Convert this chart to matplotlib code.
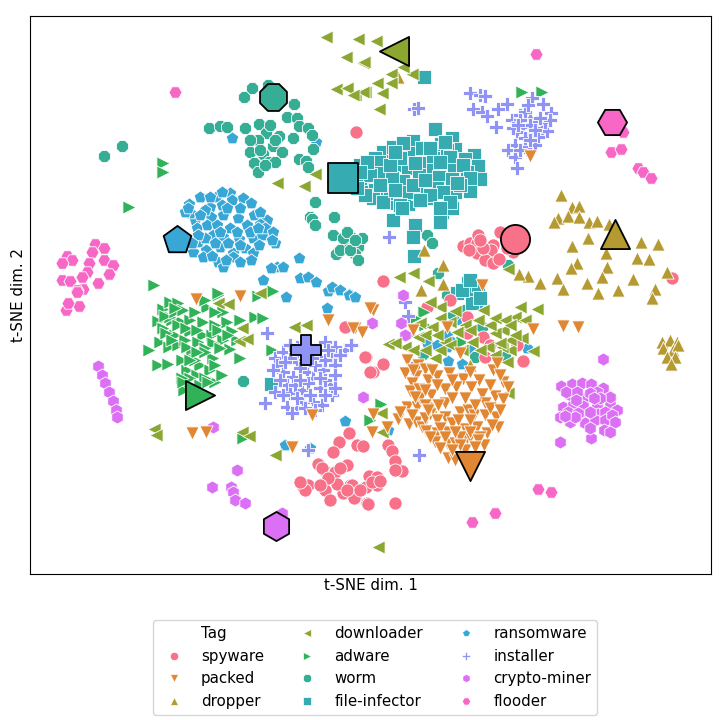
import matplotlib
matplotlib.use("Agg")
import seaborn as sns
from matplotlib import pyplot as plt
from matplotlib.lines import Line2D

# points, one list per tag
spyware = [(356,132),(383,281),(672,278),(463,246),(470,243),(477,243),(478,235),(500,232),(493,245),(477,253),(491,250),(485,260),(493,263),(499,259),(513,252),(507,248),(483,248),(469,250),(480,240),
    (366,357),(373,372),(383,364),(485,357),(523,361),(467,317),(467,333),(483,337),(427,307),(517,345),(450,300),(490,345),
    (349,433),(339,442),(357,445),(333,452),(318,464),(325,471),(335,472),(347,465),(303,487),(325,490),(330,500),(350,485),(343,493),(355,498),(365,487),(367,503),(337,484),(365,357),(370,372),
    (363,446),(388,445),(392,451),(395,461),(402,471),(395,470),(369,476),(366,487),(377,485),(352,485),(354,498),(368,504),(395,503),(377,477),(345,327),
    (322,468),(340,468),(328,478),(308,485),(305,490),(300,482),(320,485),(347,490),(360,490),(372,482),(380,481)]
packed = [(407,360),(418,365),(425,369),(405,373),(416,376),(428,380),(437,376),(449,373),(463,379),(479,380),(493,370),(503,382),(508,387),(412,383),(410,391),(419,389),(431,395),(445,389),(456,387),(471,387),(482,394),(495,396),(503,399),(407,407),(417,407),(420,398),(445,403),(460,412),(468,410),(485,403),(496,417),(430,414),(445,417),(437,420),(474,415),(485,415),(398,419),(409,424),(416,422),(422,427),(426,431),(437,433),(448,432),(465,429),(477,427),(452,423),(498,427),(487,433),(435,442),(447,443),(455,443),(467,438),(484,445),(465,450),(448,458),(455,460),(470,437),(460,437),(373,310),(355,328),(362,332),(563,326),(578,327),(533,329),(373,414),(387,427),(372,432),(460,353),(447,327),(413,330),(497,363),
    (196,299),(240,296),(192,433),(206,432),(292,447),(312,415),(328,320),(353,328),(370,308),(530,156),(482,285),
    (413,370),(432,370),(452,380),(470,372),(490,385),(500,375),(415,397),(425,405),(438,405),(452,398),(465,398),(475,405),(490,408),(500,410),(425,418),(458,420),(470,420),(492,425),(440,428),(455,432),(470,432),(480,437),(430,437),(445,437),(460,445),(478,440),(440,448),(452,450),(475,447),(425,390),(437,385),(400,412),(412,415),(428,410)]
dropper = [(561,195),(572,207),(579,206),(558,218),(554,222),(568,216),(579,217),(589,222),(597,221),(609,224),(588,238),(572,246),(606,253),(641,242),(658,244),(637,258),(649,259),(577,263),(571,268),(607,267),(557,278),(563,289),(587,283),(602,277),(633,279),(667,272),(655,289),(618,290),(598,293),(540,283),(528,276),(519,274),(443,265),(443,284),(421,290),(424,250),(398,77),(652,298),(431,406),(470,365),
    (662,342),(670,340),(677,342),(663,348),(673,350),(678,345),(667,357),(675,357),(671,364)]
downloader = [(326,37),(358,39),(346,57),(363,63),(336,89),(347,88),(355,95),(365,92),(315,174),(277,183),(304,186),(376,41),(364,62),(391,74),(412,74),(403,67),(377,83),(391,83),(382,93),(363,92),(353,95),(379,109),(413,273),(399,277),(428,281),(508,269),
    (537,309),(520,307),(515,317),(503,330),(495,333),(522,338),(533,351),(510,350),(502,347),(488,347),(472,342),(478,320),(483,310),(455,311),(440,307),(430,302),(420,323),(432,327),(418,337),(405,347),(413,350),(388,344),(395,343),(435,358),(507,362),(508,393),(381,413),(382,432),(378,547),
    (218,303),(228,304),(242,328),(239,341),(247,339),(294,327),(306,325),(154,429),(156,435),(242,432),(249,436),(275,455),(260,293),
    (465,325),(450,322),(440,318),(425,335),(445,342),(457,332),(490,325),(495,318),(505,320),(510,325),(480,350),(495,355),(425,350),(440,350),(462,350),(510,340),(525,320),(515,335),(450,345),(470,330),(437,335),(500,343)]
adware = [(218,295),(258,296),(272,292),(207,307),(223,312),(255,317),(263,318),(163,309),(170,302),(178,303),(158,321),(172,320),(182,322),(163,328),(203,322),(227,322),(190,331),(203,335),(212,335),(232,331),(223,340),(160,342),(149,350),(169,347),(178,345),(192,352),(213,343),(230,349),(272,350),(182,360),(213,358),(240,358),(158,365),(168,364),(200,365),(187,370),(210,370),(197,375),(215,382),(185,385),(184,390),(243,438),(170,317),(190,320),
    (163,163),(163,172),(129,207),(154,285),(218,293),(273,291),(522,92),(542,92),(532,150),(424,312),(462,342),(381,404),(370,420),(425,325),(415,318),(410,335),
    (165,316),(175,312),(183,310),(195,312),(175,335),(185,340),(198,342),(205,348),(195,360),(205,352),(220,348),(215,325),(240,320),(237,340),(166,333),(205,378),(190,378),(200,385),(208,382),(182,378),(183,382),(178,325),(186,328),(197,330),(172,340),(215,312),(218,330),(228,335),(205,300),(175,308),(187,347),(197,352),(215,365),(222,375),(190,360)]
worm = [(122,146),(104,156),(209,128),(220,126),(227,127),(244,97),(252,88),(268,85),(294,104),(287,117),(297,118),(299,126),(308,128),(312,135),(293,138),(279,136),(245,128),(259,124),(266,133),(258,140),(273,146),(250,152),(263,154),(282,152),(254,163),(269,162),(275,162),(258,172),(313,149),(299,159),(306,161),(308,167),(315,202),(334,217),(310,217),(312,219),(315,225),(333,235),(336,254),(345,245),(352,238),(358,247),(355,254),(358,260),(343,238),(362,238),
    (260,150),(250,140),(275,140),(265,165),(270,125),(340,250),(350,250),(347,232),(355,240),
    (427,235),(432,243),(243,381),(423,354),(438,273),(447,295),(465,310),(482,327),(453,315),(475,357),(505,357),(508,265)]
file_infector = [(435,129),(452,138),(413,141),(441,144),(422,148),(455,149),(395,153),(408,153),(383,152),(447,150),(474,155),(465,159),(478,166),(375,158),(379,162),(360,165),(422,163),(433,158),(402,165),(408,168),(450,157),(378,173),(454,170),(433,170),(419,175),(439,177),(467,172),(480,179),(452,179),(403,181),(358,178),(363,187),(470,191),(437,188),(455,192),(375,190),(385,195),(373,198),(427,198),(393,203),(408,204),(390,193),(418,193),(400,193),(408,192),(442,212),(452,208),(393,220),(440,222),(415,225),(413,237),(414,256),(424,77),
    (360,178),(468,283),(473,293),(472,303),(457,293),(478,285),(271,384),(462,290),(470,280),(480,298),
    (393,147),(403,143),(430,148),(445,142),(463,165),(470,178),(460,185),(443,192),(413,185),(425,180),(392,178),(370,175),(367,162),(400,158),(390,165),(440,162),(430,195),(450,202),(383,202),(400,205),(365,195),(357,188),(395,152),(415,163),(440,208),(457,183),(402,208),(420,200),(380,185),(395,190),(360,172)]
ransomware = [(232,138),(316,142),(189,204),(200,197),(210,207),(216,197),(230,193),(232,200),(243,198),(251,203),(195,220),(211,217),(223,215),(238,218),(254,215),(267,220),(197,228),(207,225),(217,225),(230,228),(247,225),(260,224),(269,236),(275,243),(198,242),(213,235),(223,237),(239,239),(253,238),(262,235),(193,252),(206,250),(220,247),(233,253),(245,248),(253,253),(203,257),(218,262),(223,267),(233,257),(251,260),
    (299,258),(277,267),(271,268),(283,267),(263,280),(300,278),(308,277),(316,282),(328,291),(332,287),(340,290),(349,294),(286,297),(327,308),(349,295),(355,297),(285,445),(310,448),(345,421),(447,335),(447,347),(427,343),(448,361),(462,364),(457,320),(452,342),(527,348),(388,430),(437,345),(470,350),(478,305),
    (205,210),(190,213),(222,205),(240,208),(260,212),(185,212),(220,232),(205,238),(237,232),(250,232),(215,243),(228,243),(198,235),(240,245),(259,245),(265,228),(273,232),(226,260),(212,256),(240,262),(192,243),(227,208),(200,215),(188,208),(210,197),(222,192),(258,228),(272,240)]
installer = [(470,93),(480,95),(485,96),(473,109),(482,112),(487,116),(498,109),(507,104),(496,127),(512,120),(520,115),(532,98),(543,104),(551,113),(530,118),(537,122),(523,127),(542,128),(547,131),(529,134),(517,132),(538,137),(515,145),(525,147),(508,150),(515,157),(517,168),(414,109),(418,108),(389,237),
    (419,455),(405,302),(408,316),(352,345),(412,368),(267,333),(265,403),(308,450),
    (275,358),(283,352),(297,347),(325,342),(335,347),(345,350),(351,345),(332,358),(320,357),(283,372),(293,377),(307,372),(313,378),(323,370),(330,385),(287,385),(302,390),(320,388),(290,393),(313,402),(303,402),(322,405),(287,407),(297,408),(292,413),(275,392),(277,365),(297,362),(332,395),
    (290,358),(305,360),(315,350),(290,345),(285,362),(300,368),(315,365),(325,360),(335,365),(280,380),(295,385),(308,383),(325,380),(335,375),(283,395),(297,398),(310,395),(325,395),(335,388),(305,408),(315,410),(300,380),(312,358),(320,378),(328,350),(340,355),(273,370),
    (525,112),(530,125),(535,130),(545,122),(550,120),(520,120),(513,128),(525,138),(535,145),(520,150),(530,140),(540,118),(528,105),(518,125)]
crypto_miner = [(98,366),(102,375),(105,383),(109,392),(113,401),(116,410),(117,417),(213,427),(237,470),(212,487),(231,487),(233,492),(235,500),(245,503),(282,513),(363,397),(372,323),(401,323),(603,359),(560,442),(591,438),(403,295),(405,335),
    (561,386),(572,384),(582,383),(591,384),(603,388),(597,392),(570,395),(585,398),(563,407),(573,405),(583,406),(597,405),(610,403),(617,410),(560,417),(570,422),(581,415),(598,414),(585,423),(595,420),(613,423),(608,428),(610,397),
    (566,392),(577,392),(590,393),(568,412),(578,413),(590,412),(605,412),(575,417),(565,416),(590,428),(605,420),(612,415),(600,398),(615,422),(576,400),(594,398),(604,430),(610,432)]
flooder = [(175,92),(95,244),(104,248),(67,256),(72,260),(62,263),(92,252),(89,263),(104,260),(113,265),(87,272),(109,274),(62,280),(70,281),(82,277),(98,283),(83,289),(77,290),(79,306),(66,310),(68,303),(77,292),
    (536,54),(623,132),(611,152),(621,149),(638,168),(643,172),(651,178),(538,489),(551,492),(495,513),(472,522)]

# the one big marker per tag
big_points = [(515,239),(470,466),(615,234),(394,51),(200,395),(273,97),(343,178),(177,240),(306,350),(276,526),(612,122)]

tags = ["spyware","packed","dropper","downloader","adware","worm","file-infector","ransomware","installer","crypto-miner","flooder"]
markers = ["o","v","^","<",">","8","s","p","P","h","H"]
series = [spyware,packed,dropper,downloader,adware,worm,file_infector,ransomware,installer,crypto_miner,flooder]
draw_order = [7,5,6,0,4,8,9,10,2,3,1]

colors = sns.color_palette("husl", 11)

fig = plt.figure(figsize=(7.2, 7.2), dpi=100)
ax = fig.add_axes([30/720, 1-574/720, 681/720, 558/720])

for i in draw_order:
    xs = [p[0] for p in series[i]]
    ys = [p[1] for p in series[i]]
    ax.scatter(xs, ys, s=90, marker=markers[i], color=colors[i], edgecolor="white", linewidth=0.6)

for i in range(11):
    ax.scatter(big_points[i][0], big_points[i][1], s=440, marker=markers[i], color=colors[i],
               edgecolor="black", linewidth=1.3, zorder=5)

ax.set_xlim(30, 711)
ax.set_ylim(574, 16)
ax.set_xticks([])
ax.set_yticks([])
ax.set_xlabel("t-SNE dim. 1", fontsize=10.8, labelpad=3)
ax.set_ylabel("t-SNE dim. 2", fontsize=10.8, labelpad=3)

handles = [Line2D([], [], linestyle="none", label="Tag")]
for i in range(11):
    handles.append(Line2D([], [], linestyle="none", marker=markers[i], color=colors[i],
                          markeredgecolor="white", markeredgewidth=0.5, markersize=6, label=tags[i]))
fig.legend(handles=handles, ncol=3, loc="center", bbox_to_anchor=(375/720, 1-667.5/720),
           fontsize=10.8, columnspacing=1.9)

fig.savefig("out.png", dpi=100)
